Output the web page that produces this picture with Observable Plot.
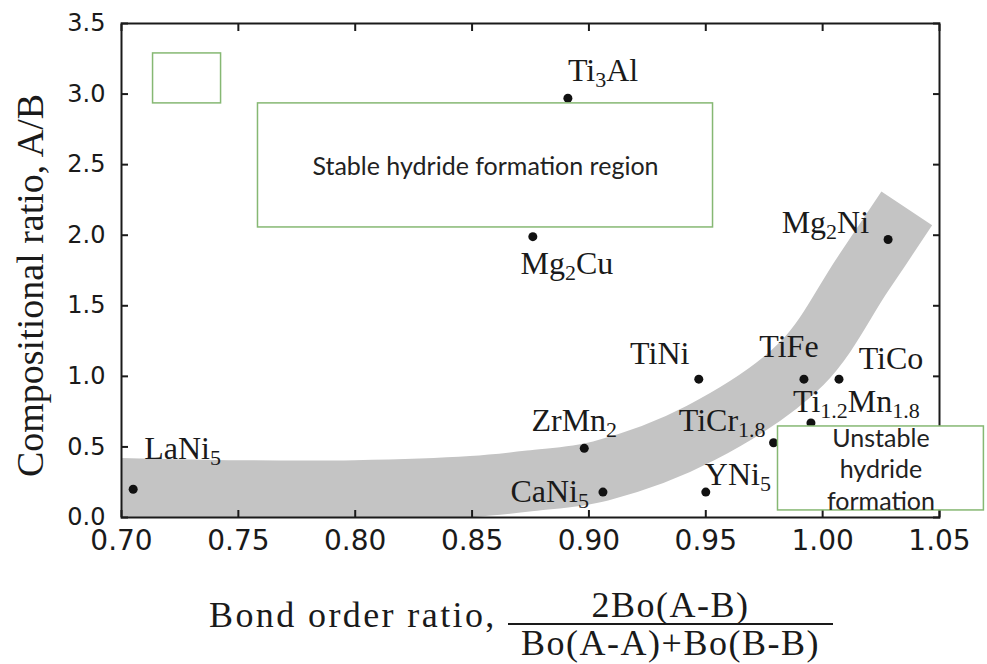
<!DOCTYPE html>
<html><head><meta charset="utf-8">
<script src="https://cdn.jsdelivr.net/npm/d3@7"></script>
<script src="https://cdn.jsdelivr.net/npm/@observablehq/plot@0.6"></script>
<style>
html,body{margin:0;padding:0;background:#fff;}
#wrap{position:relative;width:987px;height:664px;overflow:hidden;}
.xt{position:absolute;font-family:"Liberation Serif","Times New Roman",serif;font-size:36px;line-height:36px;color:#1a1a1a;letter-spacing:1.5px;white-space:nowrap;}
.frac{position:absolute;left:508px;top:587px;width:325px;}
.frac div{text-align:center;}
.frac .num{border-bottom:2px solid #1a1a1a;}
</style></head><body>
<div id="wrap">
  <span class="xt" style="left:209px;top:597px;letter-spacing:2.4px;">Bond order ratio,</span>
  <div class="xt frac"><div class="num">2Bo(A-B)</div><div class="den">Bo(A-A)+Bo(B-B)</div></div>
</div>
<script>
// ---- data ----
const compounds = ["LaNi5","CaNi5","ZrMn2","YNi5","TiNi","TiCr1.8","Ti1.2Mn1.8","TiFe","TiCo","Mg2Cu","Mg2Ni","Ti3Al"];
const bondOrderRatio = [0.705, 0.906, 0.898, 0.950, 0.947, 0.979, 0.995, 0.992, 1.007, 0.876, 1.028, 0.891];
const compositionalRatio = [0.20, 0.18, 0.49, 0.18, 0.98, 0.53, 0.67, 0.98, 0.98, 1.99, 1.97, 2.97];

// grey trend band (centre line)
const bandX = [0.69, 0.75, 0.80, 0.85, 0.875, 0.905, 0.948, 0.991, 1.017, 1.036];
const bandY = [0.21, 0.19, 0.19, 0.22, 0.26, 0.33, 0.60, 1.09, 1.72, 2.19];

// annotation boxes
const regionNames = ["", "Stable hydride formation region", "Unstable\nhydride\nformation"];
const regionX1 = [0.7135, 0.7584, 0.9809];
const regionX2 = [0.7426, 0.9531, 1.0690];
const regionY1 = [2.934, 2.055, 0.050];
const regionY2 = [3.288, 2.934, 0.645];

// ticks
const xTicks = [0.70, 0.75, 0.80, 0.85, 0.90, 0.95, 1.00, 1.05];
const yTicks = [0.0, 0.5, 1.0, 1.5, 2.0, 2.5, 3.0, 3.5];
const yTitle = "Compositional ratio, A/B";

// ---- layout of point labels (styling, not data) ----
const labelLayout = {
  "LaNi5":      {anchor: "start",  dx: 11,  dy: -41},
  "CaNi5":      {anchor: "end",    dx: -14, dy: 0},
  "ZrMn2":      {anchor: "middle", dx: -10, dy: -28},
  "YNi5":       {anchor: "start",  dx: -1,  dy: -17},
  "TiNi":       {anchor: "middle", dx: -39, dy: -25},
  "TiCr1.8":    {anchor: "end",    dx: -8,  dy: -22},
  "Ti1.2Mn1.8": {anchor: "start",  dx: -18, dy: -21},
  "TiFe":       {anchor: "middle", dx: -15, dy: -32},
  "TiCo":       {anchor: "middle", dx: 52,  dy: -20},
  "Mg2Cu":      {anchor: "middle", dx: 34,  dy: 27},
  "Mg2Ni":      {anchor: "end",    dx: -19, dy: -17},
  "Ti3Al":      {anchor: "start",  dx: 0,   dy: -28}
};

const points = compounds.map((name, i) => ({name, x: bondOrderRatio[i], y: compositionalRatio[i]}));
const band = bandX.map((x, i) => ({x, y: bandY[i]}));
const regions = regionNames.map((name, i) => ({name, x1: regionX1[i], x2: regionX2[i], y1: regionY1[i], y2: regionY2[i]}));

const INK = "#1a1a1a";
const serif = "'Liberation Serif','Times New Roman',serif";
const sans = "'DejaVu Sans',Arial,sans-serif";

const labelMarks = points.map(p => {
  const L = labelLayout[p.name];
  return Plot.text([p], {x: "x", y: "y", text: "name", textAnchor: L.anchor, dx: L.dx, dy: L.dy,
    fontSize: 32, fontFamily: serif, fill: INK});
});

const chart = Plot.plot({
  width: 987,
  height: 664,
  marginLeft: 121,
  marginRight: 48,
  marginTop: 23,
  marginBottom: 147,
  style: {background: "transparent", overflow: "visible"},
  x: {domain: [0.70, 1.05], label: null},
  y: {domain: [0, 3.5], label: null},
  marks: [
    Plot.line(band, {x: "x", y: "y", curve: "catmull-rom", stroke: "#c4c4c4", strokeWidth: 61, strokeLinecap: "butt", clip: true}),
    Plot.frame({stroke: INK, strokeWidth: 2}),
    // inward ticks on all four sides
    Plot.axisX(xTicks, {anchor: "bottom", tickSize: -7, strokeWidth: 2, stroke: INK, tickFormat: () => "", label: null}),
    Plot.axisX(xTicks, {anchor: "top", tickSize: -7, strokeWidth: 2, stroke: INK, tickFormat: () => "", label: null}),
    Plot.axisY(yTicks, {anchor: "left", tickSize: -7, strokeWidth: 2, stroke: INK, tickFormat: () => "", label: null}),
    Plot.axisY(yTicks, {anchor: "right", tickSize: -7, strokeWidth: 2, stroke: INK, tickFormat: () => "", label: null}),
    // tick labels
    Plot.axisX(xTicks, {anchor: "bottom", tickSize: 0, tickPadding: 13, tickFormat: d3.format(".2f"), fontSize: 28, fontFamily: sans, fill: INK, label: null}),
    Plot.axisY(yTicks, {anchor: "left", tickSize: 0, tickPadding: 16, tickFormat: d3.format(".1f"), fontSize: 24, fontFamily: sans, fill: INK, label: null}),
    Plot.dot(points, {x: "x", y: "y", r: 4.5, fill: "#111", stroke: "none"}),
    ...labelMarks,
    Plot.rect(regions, {x1: "x1", x2: "x2", y1: "y1", y2: "y2", fill: "white", stroke: "#86b873", strokeWidth: 1.5}),
    Plot.text(regions, {x: d => (d.x1 + d.x2) / 2, y: d => (d.y1 + d.y2) / 2, text: "name", fontFamily: "Lato, 'Open Sans', sans-serif", fontSize: 25, lineHeight: 1.25, fill: "#222"}),
    Plot.text([yTitle], {frameAnchor: "left", text: d => d, textAnchor: "middle", rotate: -90, dx: -91, dy: 15, fontSize: 38, fontFamily: serif, fill: INK})
  ]
});

// chemical formula subscripts
const formulaSet = new Set(compounds);
d3.select(chart).selectAll("text").each(function() {
  if (this.querySelector("tspan")) return;
  const s = this.textContent;
  if (!formulaSet.has(s)) return;
  const parts = s.match(/[A-Za-z]+|[0-9.]+/g) || [s];
  this.textContent = "";
  let sub = false;
  for (const p of parts) {
    const t = d3.select(this).append("tspan").text(p);
    if (/^[0-9.]/.test(p)) { t.attr("font-size", "22px"); if (!sub) t.attr("dy", 6); sub = true; }
    else { if (sub) t.attr("dy", -6); sub = false; }
  }
});

chart.style.position = "absolute";
chart.style.left = "0";
chart.style.top = "0";
document.getElementById("wrap").prepend(chart);
</script>
</body></html>
